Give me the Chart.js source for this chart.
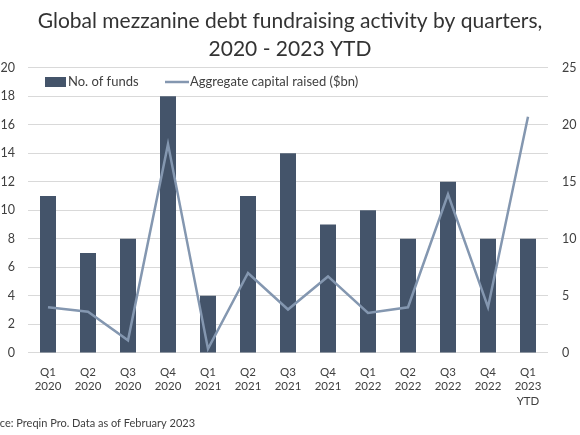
<!DOCTYPE html>
<html>
<head>
<meta charset="utf-8">
<script src="https://cdn.jsdelivr.net/npm/chart.js@4"></script>
<style>
  html, body { margin: 0; padding: 0; background: #fff; }
  #wrap { width: 580px; height: 435px; position: relative; }
</style>
</head>
<body>
<div id="wrap"><canvas id="chart"></canvas></div>
<script>
  // Data
  const quarters = ['Q1', 'Q2', 'Q3', 'Q4', 'Q1', 'Q2', 'Q3', 'Q4', 'Q1', 'Q2', 'Q3', 'Q4', 'Q1'];
  const years = ['2020', '2020', '2020', '2020', '2021', '2021', '2021', '2021', '2022', '2022', '2022', '2022', '2023'];
  const fundsCount = [11, 7, 8, 18, 4, 11, 14, 9, 10, 8, 12, 8, 8];
  const capitalRaised = [4.0, 3.6, 1.1, 18.3, 0.35, 7.0, 3.8, 6.7, 3.5, 4.0, 13.9, 4.0, 20.7];
  const leftTicks = [0, 2, 4, 6, 8, 10, 12, 14, 16, 18, 20];
  const rightTicks = [0, 5, 10, 15, 20, 25];

  const labels = quarters.map((q, i) => {
    const lbl = [q, years[i]];
    if (i === quarters.length - 1) lbl.push('YTD');
    return lbl;
  });

  const barColor = '#44546A';
  const lineColor = '#8497B0';
  const textColor = '#404040';
  const font = 'Lato, "Open Sans", sans-serif';

  // legend + source note drawn by hand
  const extras = {
    id: 'extras',
    afterDraw(chart) {
      const ctx = chart.ctx;
      ctx.save();
      ctx.font = '13px ' + font;
      ctx.fillStyle = textColor;
      ctx.textBaseline = 'middle';
      const ly = 82;
      ctx.fillStyle = barColor;
      ctx.fillRect(45, ly - 5, 21, 10);
      ctx.fillStyle = textColor;
      ctx.fillText('No. of funds', 68, ly);
      ctx.strokeStyle = lineColor;
      ctx.lineWidth = 2.5;
      ctx.beginPath();
      ctx.moveTo(165, ly);
      ctx.lineTo(189, ly);
      ctx.stroke();
      ctx.fillText('Aggregate capital raised ($bn)', 190, ly);

      ctx.font = '11px ' + font;
      const off = ctx.measureText('Sour').width;
      ctx.fillText('Source: Preqin Pro. Data as of February 2023', -off, 423);
      ctx.restore();
    }
  };

  new Chart(document.getElementById('chart'), {
    type: 'bar',
    data: {
      labels: labels,
      datasets: [
        {
          type: 'line',
          label: 'Aggregate capital raised ($bn)',
          data: capitalRaised,
          yAxisID: 'y1',
          borderColor: lineColor,
          borderWidth: 2.5,
          pointRadius: 0,
          tension: 0,
          order: 0,
        },
        {
          label: 'No. of funds',
          data: fundsCount,
          yAxisID: 'y',
          backgroundColor: barColor,
          barPercentage: 0.4,
          categoryPercentage: 1,
          order: 1,
        },
      ],
    },
    options: {
      responsive: true,
      maintainAspectRatio: false,
      animation: false,
      layout: { padding: { top: 4, bottom: 23, left: 0, right: 0 } },
      plugins: {
        legend: { display: false },
        tooltip: { enabled: false },
        title: {
          display: true,
          text: ['Global mezzanine debt fundraising activity by quarters,', '2020 - 2023 YTD'],
          color: '#333333',
          font: { family: font, size: 21, weight: 'normal', lineHeight: 1.35 },
          padding: { top: 3, bottom: 4 },
        },
      },
      scales: {
        x: {
          grid: { display: false },
          border: { display: false },
          ticks: {
            color: textColor,
            font: { family: font, size: 11.5, lineHeight: 1.25 },
            maxRotation: 0,
            autoSkip: false,
            padding: 4,
          },
        },
        y: {
          position: 'left',
          min: 0,
          max: 20,
          afterBuildTicks(axis) {
            axis.ticks = leftTicks.map(v => ({ value: v }));
          },
          afterFit(axis) {
            axis.width = 28;
          },
          grid: { color: '#d9d9d9', lineWidth: 1, drawTicks: false },
          border: { display: false },
          ticks: {
            color: textColor,
            font: { family: font, size: 12.5 },
            padding: 13,
          },
        },
        y1: {
          position: 'right',
          min: 0,
          max: 25,
          afterBuildTicks(axis) {
            axis.ticks = rightTicks.map(v => ({ value: v }));
          },
          afterFit(axis) {
            axis.width = 32;
          },
          grid: { display: false, drawTicks: false },
          border: { display: false },
          ticks: {
            color: textColor,
            font: { family: font, size: 12.5 },
            padding: 14,
          },
        },
      },
    },
    plugins: [extras],
  });
</script>
</body>
</html>
